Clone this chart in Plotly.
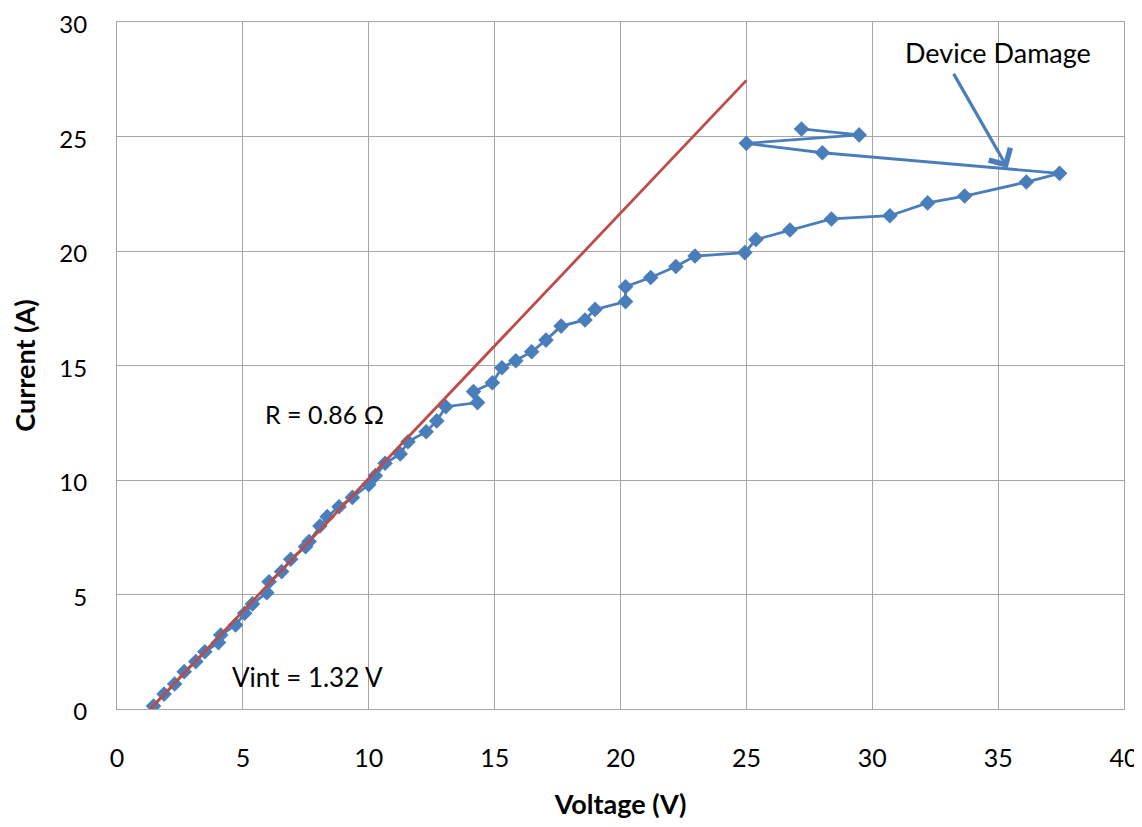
import plotly.graph_objects as go

voltage = [1.45, 1.87, 2.29, 2.67, 3.13, 3.49, 4.03, 4.12, 4.71, 5.07, 5.38, 5.95, 6.04, 6.54, 6.9,
           7.49, 7.63, 8.06, 8.35, 8.82, 9.35, 10.0, 10.26, 10.65, 11.25, 11.56, 12.28, 12.7, 13.06,
           14.32, 14.16, 14.91, 15.29, 15.84, 16.47, 17.04, 17.64, 18.59, 18.99, 20.2, 20.2, 21.2,
           22.2, 22.96, 24.94, 25.38, 26.73, 28.38, 30.7, 32.2, 33.67, 36.12, 37.44, 28.02, 25.0,
           29.48, 27.19]
current = [0.13, 0.65, 1.09, 1.63, 2.07, 2.5, 2.9, 3.23, 3.67, 4.18, 4.59, 5.08, 5.56, 6.0, 6.54,
           7.09, 7.31, 7.99, 8.4, 8.83, 9.24, 9.8, 10.19, 10.73, 11.14, 11.67, 12.11, 12.58, 13.2,
           13.38, 13.86, 14.25, 14.9, 15.21, 15.6, 16.11, 16.72, 16.99, 17.45, 17.79, 18.44, 18.84,
           19.32, 19.78, 19.93, 20.5, 20.92, 21.4, 21.54, 22.1, 22.4, 23.01, 23.39, 24.29, 24.7,
           25.07, 25.33]

fit_voltage = [1.32, 25.0]
fit_current = [0.0, 27.45]

x_ticks = [0, 5, 10, 15, 20, 25, 30, 35, 40]
y_ticks = [0, 5, 10, 15, 20, 25, 30]

FONT = "Lato"
BLUE = "#4a7ebb"
RED = "#be4b48"

fig = go.Figure()
fig.add_trace(go.Scatter(x=voltage, y=current, mode="lines+markers",
                         line=dict(color=BLUE, width=2.8),
                         marker=dict(symbol="diamond", size=12, color=BLUE),
                         showlegend=False))
fig.add_trace(go.Scatter(x=fit_voltage, y=fit_current, mode="lines",
                         line=dict(color=RED, width=2.8), showlegend=False))

fig.add_annotation(x=35.38, y=23.62, ax=33.2, ay=27.8, xref="x", yref="y", axref="x", ayref="y",
                   text="", showarrow=True, arrowhead=4, arrowsize=1.5, arrowwidth=3.2, arrowcolor=BLUE)
fig.add_annotation(x=35.0, y=28.65, xref="x", yref="y", text="Device Damage", showarrow=False,
                   font=dict(family=FONT, size=27, color="#000"))
fig.add_annotation(x=5.8, y=12.9, xref="x", yref="y", text="R = 0.86 Ω", showarrow=False,
                   xanchor="left", font=dict(family=FONT, size=25, color="#000"))
fig.add_annotation(x=4.5, y=1.4, xref="x", yref="y", text="Vint = 1.32 V", showarrow=False,
                   xanchor="left", font=dict(family=FONT, size=26, color="#000"))

axis_common = dict(showgrid=True, gridcolor="#a6a6a6", gridwidth=1, showline=True,
                   linecolor="#a6a6a6", linewidth=1, mirror=True, zeroline=False,
                   ticks="", automargin=False, ticklabeloverflow="allow")

fig.update_xaxes(range=[0, 40], tickvals=x_ticks, title=dict(text="<b>Voltage (V)</b>",
                 font=dict(family=FONT, size=27, color="#000"), standoff=24),
                 tickfont=dict(family=FONT, size=25, color="#000"),
                 ticklabelstandoff=27, **axis_common)
fig.update_yaxes(range=[0, 30], tickvals=y_ticks, title=dict(text="<b>Current (A)</b>",
                 font=dict(family=FONT, size=27, color="#000"), standoff=22),
                 tickfont=dict(family=FONT, size=24, color="#000"),
                 ticklabelstandoff=24, ticklabelshift=3, **axis_common)

fig.update_layout(width=1134, height=819, margin=dict(l=109, r=18, t=14, b=118),
                  plot_bgcolor="white", paper_bgcolor="white")

fig.write_html("out.html")
